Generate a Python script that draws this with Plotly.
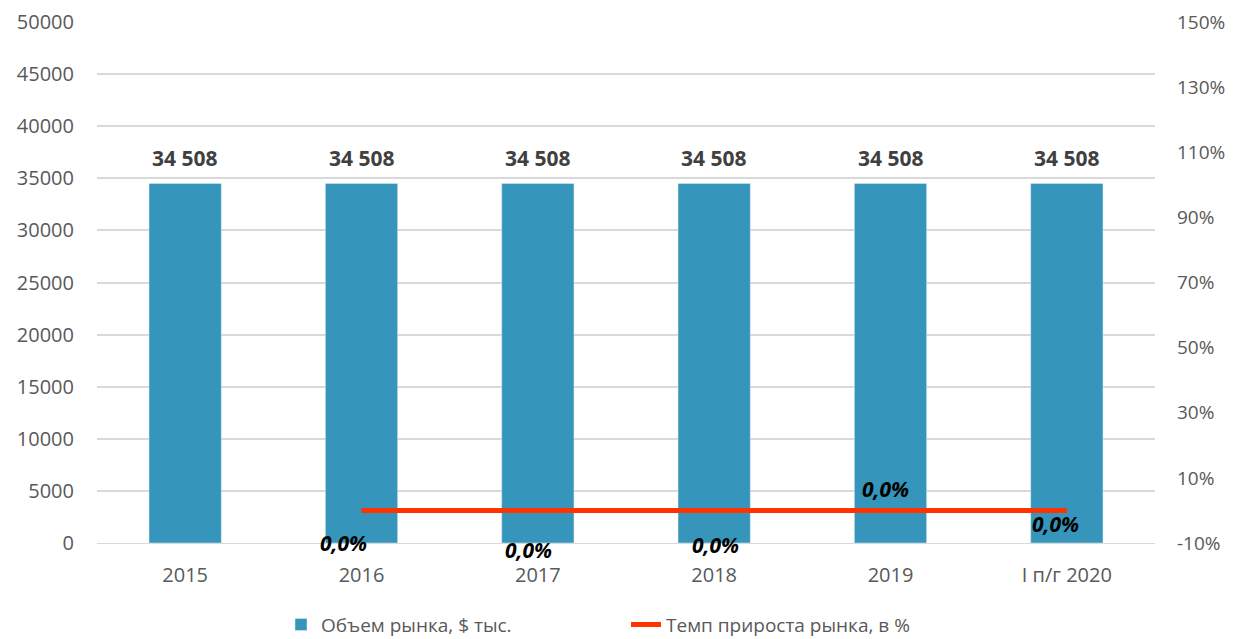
import plotly.graph_objects as go

# data
categories = ["2015", "2016", "2017", "2018", "2019", "I п/г 2020"]
market_volume = [34508, 34508, 34508, 34508, 34508, 34508]
growth_cats = ["2016", "2017", "2018", "2019", "I п/г 2020"]
growth_rate = [0.0, 0.0, 0.0, 0.0, 0.0]
pct_ticks = [-10, 10, 30, 50, 70, 90, 110, 130, 150]
pct_labels = ["-10%", "10%", "30%", "50%", "70%", "90%", "110%", "130%", "150%"]

# label offsets (px) for the growth labels, as in the original chart
label_shift = [(-18, -33), (-9, -40), (1, -35), (-5, 21), (-11, -14)]

fig = go.Figure()

fig.add_trace(go.Bar(
    x=categories, y=market_volume,
    name="Объем рынка, $ тыс.",
    marker=dict(color="#3595BA"),
    width=0.41,
))

fig.add_trace(go.Scatter(
    x=growth_cats, y=growth_rate,
    name="Темп прироста рынка, в %",
    mode="lines",
    line=dict(color="#FF3300", width=5),
    yaxis="y2",
))

# category names look numeric, so annotations use the category index
for i, v in enumerate(market_volume):
    fig.add_annotation(
        x=i, y=v, xref="x", yref="y",
        text="<b>" + f"{v:,}".replace(",", " ") + "</b>",
        showarrow=False, yanchor="bottom", yshift=9,
        font=dict(family="Open Sans", size=21, color="#404040"),
    )

for c, v, (dx, dy) in zip(growth_cats, growth_rate, label_shift):
    fig.add_annotation(
        x=categories.index(c), y=v, xref="x", yref="y2",
        text="<b><i>" + f"{v:.1f}".replace(".", ",") + "%</i></b>",
        showarrow=False, xshift=dx, yshift=dy,
        font=dict(family="Open Sans", size=21, color="#000000"),
    )

# the page body adds an 8px offset, margins compensate for it
fig.update_layout(
    width=1235, height=639,
    margin=dict(l=89, r=88, t=14, b=104),
    paper_bgcolor="white", plot_bgcolor="white",
    font=dict(family="Open Sans", size=20, color="#595959"),
    xaxis=dict(type="category", categoryorder="array", categoryarray=categories,
               range=[-0.5, len(categories) - 0.5], automargin=False,
               showgrid=False, showline=True, linecolor="#D9D9D9", linewidth=1,
               ticks="", ticklabelstandoff=14, tickfont=dict(size=20, color="#595959")),
    yaxis=dict(range=[0, 50000], dtick=5000, tickformat="d", automargin=False,
               showgrid=True, gridcolor="#D9D9D9", gridwidth=1.5,
               zeroline=False, ticks="", ticklabelstandoff=22,
               tickfont=dict(size=20, color="#595959")),
    yaxis2=dict(range=[-10, 150], tickmode="array", tickvals=pct_ticks, ticktext=pct_labels,
                overlaying="y", side="right", showgrid=False, zeroline=False,
                automargin=False, ticks="", ticklabelstandoff=21,
                tickfont=dict(size=19, color="#595959")),
    legend=dict(orientation="h", x=0.5, xanchor="center",
                yref="container", y=0.035, yanchor="middle",
                font=dict(size=19, color="#595959"),
                traceorder="normal", entrywidth=300, entrywidthmode="pixels"),
    showlegend=True,
)

fig.write_html("out.html")
